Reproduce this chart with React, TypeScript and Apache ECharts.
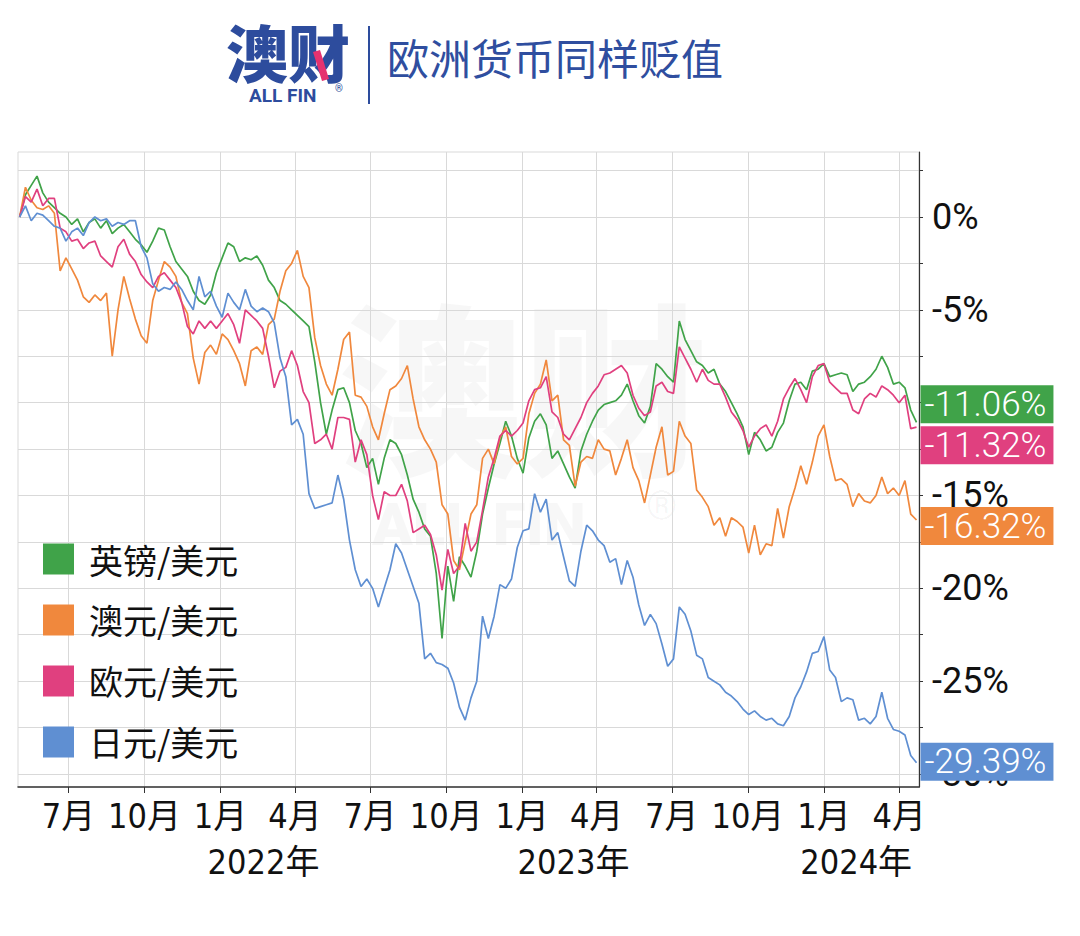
import React, { useEffect, useRef } from "react";
import * as echarts from "echarts";

// Weekly observations, % change vs. start (first week: 2021-05-03)
const START_UTC = Date.UTC(2021, 4, 3);
const WEEK_MS = 7 * 86400000;

const gbpUsd = [
  0, 1.2, 1.7, 2.2, 1.3, 0.8, 0.5, 0.2, 0.0, -0.4, -0.1, -0.8, -0.3, -0.1, -0.6, -0.2, -0.9, -0.6, -0.4, -0.8,
  -1.2, -1.5, -1.9, -1.3, -0.6, -0.7, -1.6, -2.4, -2.8, -3.2, -4.0, -4.5, -4.7, -4.2, -3.0, -2.2, -1.4, -1.6, -2.4, -2.2,
  -2.3, -2.1, -2.6, -3.4, -3.8, -4.5, -4.7, -5.0, -5.3, -5.6, -5.9, -7.8, -10.0, -11.7, -10.4, -9.3, -9.2, -10.0, -11.5, -12.2,
  -13.5, -13.0, -14.4, -13.0, -12.0, -12.2, -12.8, -13.9, -15.2, -15.9, -16.8, -17.2, -19.2, -22.7, -18.8, -20.7, -18.3, -18.8, -19.4,
  -18.0, -16.0, -14.6, -13.3, -12.2, -11.0, -11.8, -13.0, -13.8, -11.9, -11.0, -10.6, -11.2, -13.0, -12.6, -13.3, -14.0, -14.6, -12.6, -11.7,
  -11.0, -10.4, -10.1, -10.0, -9.9, -9.6, -9.0, -9.9, -10.7, -11.1, -10.2, -7.9, -8.2, -8.6, -8.9, -5.6, -6.6, -7.2, -7.8,
  -8.0, -8.4, -8.2, -9.0, -9.4, -10.0, -10.6, -11.3, -12.8, -11.6, -12.0, -12.6, -12.4, -11.6, -11.1, -9.9, -9.0, -8.9, -9.3,
  -8.3, -8.2, -7.9, -8.6, -8.5, -8.4, -8.5, -9.4, -9.0, -8.9, -8.6, -8.2, -7.5, -8.1, -9.0, -8.9, -9.2, -10.4, -11.06,
];

const audUsd = [
  0, 1.6, 0.9, 0.5, 0.4, 0.6, 0.2, -2.9, -2.2, -2.8, -3.4, -4.3, -4.6, -4.2, -4.5, -4.1, -7.5, -5.0, -3.2, -4.4,
  -5.5, -6.4, -6.8, -4.5, -3.4, -2.4, -2.7, -3.2, -4.6, -5.2, -7.6, -9.0, -7.3, -6.9, -7.4, -6.3, -6.6, -7.2, -7.9, -9.1,
  -7.2, -7.0, -7.4, -5.8, -5.5, -4.0, -2.9, -2.5, -1.8, -3.2, -3.8, -6.5, -8.0, -9.0, -9.6, -8.2, -6.6, -6.2, -9.6, -9.7,
  -10.2, -11.3, -12.0, -10.6, -9.3, -9.1, -8.7, -8.0, -9.8, -11.3, -12.0, -12.5, -13.2, -15.5, -16.0, -18.5, -19.0, -17.5, -16.0,
  -15.5, -13.0, -12.5, -13.3, -11.9, -11.3, -12.9, -13.3, -13.0, -10.6, -9.5, -9.0, -7.7, -9.9, -9.6, -12.0, -12.3, -14.5, -13.2, -12.9,
  -13.0, -12.0, -12.5, -12.6, -13.9, -13.0, -12.0, -13.5, -14.2, -15.4, -13.9, -12.4, -11.3, -13.9, -13.7, -11.0, -11.8, -12.2, -14.7,
  -15.1, -15.6, -16.6, -16.2, -17.2, -16.2, -16.4, -16.7, -18.1, -16.6, -18.2, -17.6, -17.7, -15.7, -17.3, -15.6, -14.6, -13.4, -14.4,
  -13.2, -11.8, -11.2, -12.9, -14.2, -14.1, -14.4, -15.6, -14.9, -15.3, -15.4, -15.0, -14.0, -14.9, -14.6, -15.0, -14.2, -16.0, -16.32,
];

const eurUsd = [
  0, 1.1, 0.8, 1.5, 0.6, 1.0, 1.0, -0.6, -0.8, -1.3, -1.2, -1.7, -1.4, -1.3, -2.1, -2.4, -2.7, -1.6, -1.2, -2.0,
  -2.4, -3.1, -3.5, -3.8, -3.2, -3.0, -3.4, -3.8, -4.6, -5.9, -6.3, -5.6, -6.0, -5.6, -6.0, -5.6, -5.2, -5.8, -6.8, -5.0,
  -5.3, -5.6, -6.0, -7.5, -9.2, -8.3, -8.1, -7.2, -8.0, -9.4, -10.0, -12.2, -12.0, -11.7, -12.5, -10.8, -10.8, -10.9, -13.2, -12.0,
  -12.8, -15.0, -16.3, -14.8, -15.0, -15.0, -14.4, -15.3, -17.0, -16.8, -16.6, -17.1, -18.2, -20.1, -17.9, -19.2, -18.8, -16.5, -18.0,
  -17.5, -15.8, -14.0, -13.0, -11.8, -11.5, -11.8, -11.5, -11.1, -9.9, -9.3, -9.2, -8.6, -10.5, -10.8, -11.7, -12.0, -11.4, -10.8, -10.0,
  -9.5, -9.1, -8.5, -8.4, -8.2, -8.0, -8.4, -9.6, -10.3, -10.7, -10.5, -9.1, -8.9, -9.4, -9.5, -7.0, -7.6, -8.2, -8.9,
  -8.2, -8.8, -9.0, -9.0, -9.7, -10.5, -10.9, -11.5, -12.4, -11.8, -11.4, -11.2, -11.8, -11.0, -9.8, -9.2, -8.7, -9.3, -10.0,
  -8.6, -8.0, -7.9, -8.9, -9.2, -9.5, -9.5, -10.4, -10.6, -9.8, -9.5, -9.7, -9.1, -9.3, -9.6, -10.0, -9.6, -11.4, -11.32,
];

const jpyUsd = [
  0, 0.6, -0.2, 0.2, 0.1, -0.2, -0.5, -0.6, -1.3, -0.8, -0.6, -1.0, -0.3, 0.0, -0.2, -0.1, -0.5, -0.3, -0.4, -0.2,
  -0.2, -1.6, -2.2, -3.6, -4.0, -3.8, -3.9, -3.5, -3.9, -4.5, -5.0, -3.2, -4.3, -4.0, -4.8, -5.4, -4.1, -4.6, -5.0, -3.9,
  -4.8, -5.1, -4.9, -5.1, -5.7, -7.6, -8.6, -11.2, -10.9, -11.7, -14.9, -15.7, -15.6, -15.5, -15.4, -13.9, -15.2, -17.4, -19.0, -19.9,
  -19.5, -20.0, -21.0, -20.0, -19.0, -17.6, -18.1, -19.0, -19.9, -20.8, -23.8, -23.5, -24.0, -24.1, -24.3, -25.1, -26.4, -27.1, -25.9,
  -25.0, -21.5, -22.7, -21.5, -19.8, -20.0, -19.5, -17.8, -16.9, -16.8, -14.9, -15.9, -15.2, -17.4, -17.0, -18.3, -19.6, -19.9, -18.0, -16.6,
  -16.9, -17.4, -17.7, -18.6, -18.4, -19.8, -18.5, -19.4, -20.9, -22.0, -21.4, -21.9, -23.0, -24.2, -23.8, -21.0, -21.4, -22.3, -23.6,
  -23.8, -24.8, -25.0, -25.2, -25.6, -25.8, -26.1, -26.5, -26.8, -26.6, -26.9, -27.1, -27.0, -27.3, -27.4, -26.9, -25.9, -25.3, -24.5,
  -23.5, -23.4, -22.6, -24.4, -24.8, -26.1, -25.9, -26.0, -27.1, -27.0, -27.3, -26.9, -25.6, -27.0, -27.6, -27.7, -27.9, -29.0, -29.39,
];

const seriesNames = ["英镑/美元", "澳元/美元", "欧元/美元", "日元/美元"];
const seriesColors = ["#40a349", "#f0883d", "#e0407f", "#5f8fd2"];
// vertical nudge of each end-of-line value box (px), so the boxes do not overlap
const endLabelNudge = [-18, 6, 18, -1];

const yGridValues = [2.5, 0, -2.5, -5, -7.5, -10, -12.5, -15, -17.5, -20, -22.5, -25, -27.5, -30];
const yLabelValues = [0, -5, -10, -15, -20, -25, -30];

const quarterTicks = [
  "2021-07-01", "2021-10-01", "2022-01-01", "2022-04-01", "2022-07-01", "2022-10-01",
  "2023-01-01", "2023-04-01", "2023-07-01", "2023-10-01", "2024-01-01", "2024-04-01",
];
const yearLabelPositions = ["2022-02-22", "2023-03-04", "2024-02-09"];

const X_MIN = "2021-05-01";
const X_MAX = "2024-04-25";

const toUTC = (s: string) => {
  const [y, m, d] = s.split("-").map(Number);
  return Date.UTC(y, m - 1, d);
};

const CJK = "'Noto Sans CJK SC', 'Noto Sans', sans-serif";
const NARROW = "'Liberation Sans Narrow', 'DejaVu Sans Condensed', 'Noto Sans CJK SC', sans-serif";

export default function App() {
  const ref = useRef<HTMLDivElement>(null);

  useEffect(() => {
    if (!ref.current) return;
    const chart = echarts.init(ref.current, null, { renderer: "svg" });
    const allSeries = [gbpUsd, audUsd, eurUsd, jpyUsd];

    const option: any = {
      animation: false,
      backgroundColor: "#ffffff",
      color: seriesColors,
      grid: {
        left: 18,
        right: 161,
        top: 152,
        bottom: 149,
        show: true,
        borderColor: "#d9d9d9",
        borderWidth: 1,
        backgroundColor: "transparent",
      },
      legend: {
        orient: "vertical",
        left: 43,
        top: 542,
        padding: 0,
        itemWidth: 31,
        itemHeight: 31,
        itemGap: 27,
        icon: "rect",
        data: seriesNames,
        textStyle: { fontSize: 34, color: "#111", fontFamily: CJK, padding: [0, 0, 0, 10] },
      },
      xAxis: [
        {
          type: "value",
          min: toUTC(X_MIN),
          max: toUTC(X_MAX),
          axisLine: { show: true, onZero: false, lineStyle: { color: "#333", width: 1.5 } },
          axisTick: {
            show: true,
            customValues: quarterTicks.map(toUTC),
            length: 6,
            lineStyle: { color: "#333" },
          },
          axisLabel: {
            customValues: quarterTicks.map(toUTC),
            formatter: (v: number) => new Date(v).getUTCMonth() + 1 + "月",
            fontSize: 34,
            color: "#111",
            margin: 12,
            fontFamily: NARROW,
          },
          splitLine: { show: true, lineStyle: { color: "#d9d9d9", width: 1 } },
        },
        {
          type: "value",
          min: toUTC(X_MIN),
          max: toUTC(X_MAX),
          position: "bottom",
          offset: 46,
          axisLine: { show: false, onZero: false },
          axisTick: { show: false },
          splitLine: { show: false },
          axisLabel: {
            customValues: yearLabelPositions.map(toUTC),
            formatter: (v: number) => new Date(v).getUTCFullYear() + "年",
            fontSize: 34,
            color: "#111",
            margin: 12,
            fontFamily: NARROW,
          },
        },
      ],
      yAxis: {
        type: "value",
        position: "right",
        min: -30.7,
        max: 3.5,
        axisLine: { show: true, lineStyle: { color: "#333", width: 1.2 } },
        axisTick: { show: true, customValues: yGridValues, length: 4, lineStyle: { color: "#333" } },
        axisLabel: {
          customValues: yLabelValues,
          formatter: (v: number) => v + "%",
          fontSize: 36,
          color: "#111",
          margin: 13,
          fontFamily: "Roboto, 'Noto Sans', sans-serif",
        },
        splitLine: { show: true, lineStyle: { color: "#d9d9d9", width: 1 } },
      },
      graphic: [
        {
          type: "text",
          left: 338,
          top: 288,
          silent: true,
          z: 0,
          style: { text: "澳财", fontSize: 185, fontWeight: 900, fill: "rgba(0,0,0,0.03)", fontFamily: CJK },
        },
        {
          type: "text",
          left: 372,
          top: 494,
          silent: true,
          z: 0,
          style: { text: "ALL FIN", fontSize: 60, fontWeight: 900, fill: "rgba(0,0,0,0.03)", fontFamily: "Roboto, sans-serif" },
        },
        {
          type: "text",
          left: 646,
          top: 486,
          silent: true,
          z: 0,
          style: { text: "®", fontSize: 40, fill: "rgba(0,0,0,0.035)", fontFamily: "Roboto, sans-serif" },
        },
        {
          type: "text",
          left: 226,
          top: 20,
          style: { text: "澳财", fontSize: 62, lineHeight: 62, fontWeight: 900, fill: "#2d4c9d", fontFamily: CJK },
        },
        {
          type: "polygon",
          shape: { points: [[313, 52], [320, 50], [329, 79], [322, 81]] },
          style: { fill: "#e5326f" },
        },
        {
          type: "text",
          left: 249,
          top: 86,
          style: { text: "ALL FIN", fontSize: 19, lineHeight: 19, fontWeight: "bold", fill: "#2d4c9d", fontFamily: "Roboto, sans-serif" },
        },
        {
          type: "text",
          left: 335,
          top: 83,
          style: { text: "®", fontSize: 10, lineHeight: 10, fill: "#2d4c9d", fontFamily: "Roboto, sans-serif" },
        },
        {
          type: "line",
          shape: { x1: 369, y1: 26, x2: 369, y2: 104 },
          style: { stroke: "#2d4c9d", lineWidth: 2 },
        },
        {
          type: "text",
          left: 387,
          top: 35,
          style: { text: "欧洲货币同样贬值", fontSize: 42, fill: "#2f4e9f", fontFamily: CJK },
        },
      ],
      series: seriesNames.map((name, k) => ({
        name,
        type: "line",
        xAxisIndex: 0,
        showSymbol: false,
        symbol: "none",
        z: 3,
        lineStyle: { width: 1.7, color: seriesColors[k] },
        itemStyle: { color: seriesColors[k] },
        emphasis: { disabled: true },
        data: allSeries[k].map((v, i) => [START_UTC + i * WEEK_MS, v]),
        endLabel: {
          show: true,
          formatter: (p: any) => Number(p.value[1]).toFixed(2) + "%",
          color: "#ffffff",
          backgroundColor: seriesColors[k],
          fontSize: 35,
          lineHeight: 34,
          fontFamily: "Roboto, 'Noto Sans', sans-serif",
          fontWeight: 300,
          padding: [2, 7, 2, 4],
          distance: 4,
          offset: [0, endLabelNudge[k]],
        },
      })),
    };

    chart.setOption(option);
    return () => chart.dispose();
  }, []);

  return (
    <div
      ref={ref}
      style={{ position: "absolute", left: 0, top: 0, width: 1080, height: 936, background: "#fff" }}
    />
  );
}
